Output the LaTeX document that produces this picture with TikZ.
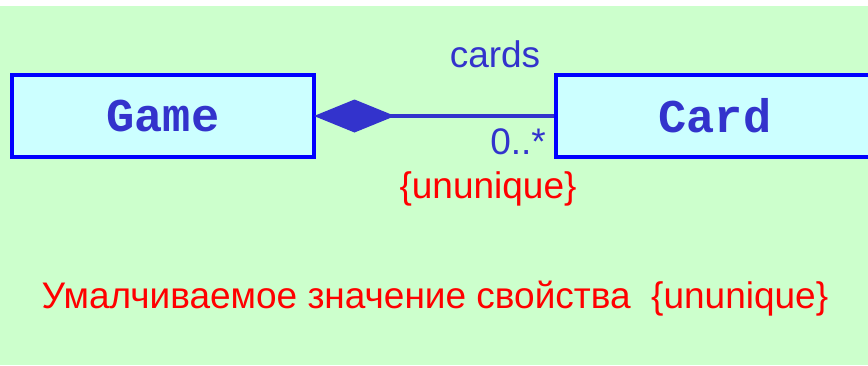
\documentclass[tikz,border=0pt]{standalone}
\usepackage{fontspec}
\setmainfont{Liberation Sans}
\setmonofont{Liberation Mono}
\usetikzlibrary{arrows.meta}
\definecolor{bggreen}{HTML}{CCFFCC}
\definecolor{boxfill}{HTML}{CCFFFF}
\definecolor{umlblue}{HTML}{3333CC}
\definecolor{brightblue}{HTML}{0000FF}
\definecolor{red}{HTML}{FF0000}
\tikzset{
  classbox/.style={draw=brightblue, line width=4pt, fill=boxfill, inner sep=0pt,
    minimum height=82pt, text=umlblue,
    font=\fontsize{47}{50}\selectfont\ttfamily\bfseries},
  lbl/.style={inner sep=0pt, text=umlblue, font=\fontsize{37}{42}\selectfont},
  redlbl/.style={inner sep=0pt, text=red, font=\fontsize{37}{42}\selectfont},
}
\begin{document}
\begin{tikzpicture}[x=1pt,y=-1pt]
\useasboundingbox (0,0) rectangle (868,365);
\fill[white] (0,0) rectangle (868,365);
\fill[bggreen] (0,6) rectangle (868,365);
\node[classbox, minimum width=302pt] (game) at (163,116) {Game};
\node[classbox, minimum width=318pt] (card) at (715,116) {Card};
\draw[umlblue, line width=4pt, {Diamond[length=81pt,width=33pt]}-] ([xshift=-2pt]game.east) -- (card.west);
\node[lbl] (cards) at (495,54) {cards};
\node[lbl, anchor=east] (mult) at (546,142) {0..*};
\node[redlbl] (uq) at (488,189) {\{ununique\}};
\node[redlbl] (note) at (435,299) {Умалчиваемое значение свойства~~\{ununique\}};
\end{tikzpicture}
\end{document}
